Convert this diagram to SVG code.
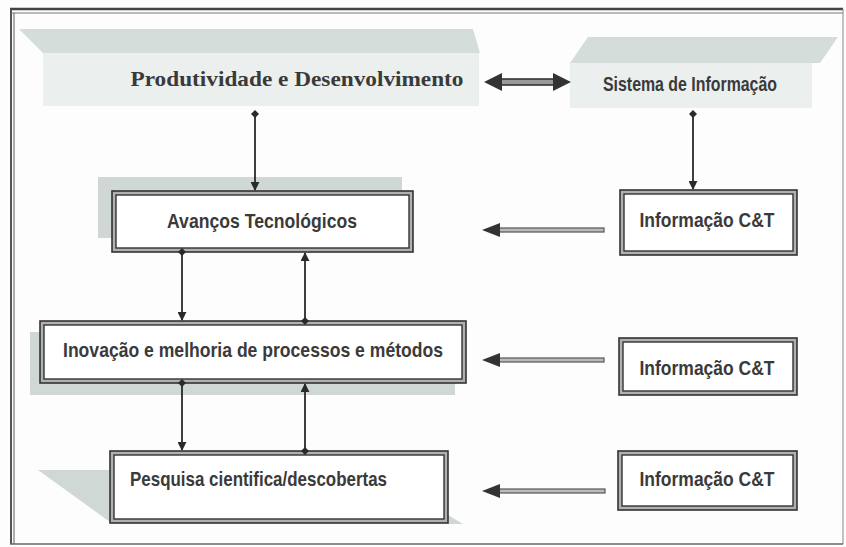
<svg xmlns="http://www.w3.org/2000/svg" width="846" height="547" viewBox="0 0 846 547">
<defs>
<style>
.lbl{font-family:"Liberation Sans Narrow","Liberation Sans",Arial,sans-serif;font-weight:bold;fill:#3a3a3a;font-size:21px}
.ser{font-family:"Liberation Serif","Times New Roman",serif;font-weight:bold;fill:#3a3a3a;font-size:22px}
.top{fill:#d4ddda}
.front{fill:#ebf0ee}
.shadow{fill:#d0d8d5}
.bout{fill:#b0b0b0;stroke:#333;stroke-width:1.6}
.bin{fill:#fff;stroke:#333;stroke-width:1.4}
.vline{stroke:#2a2a2a;stroke-width:1.8;fill:none}
.dl{stroke:#555;stroke-width:1.5;fill:none}
.head{fill:#333}
</style>
<marker id="arr" viewBox="0 0 10 10" refX="9" refY="5" markerWidth="9" markerHeight="9" orient="auto-start-reverse" markerUnits="userSpaceOnUse">
<path d="M0,0 L10,5 L0,10 z" fill="#2a2a2a"/>
</marker>
<marker id="dia" viewBox="0 0 10 10" refX="5" refY="5" markerWidth="8" markerHeight="8" orient="auto" markerUnits="userSpaceOnUse">
<path d="M5,0 L10,5 L5,10 L0,5 z" fill="#2a2a2a"/>
</marker>
</defs>
<rect x="0" y="0" width="846" height="547" fill="#fdfdfd"/>
<g id="frame">
<line x1="10" y1="9" x2="843" y2="9" stroke="#444" stroke-width="2.5"/>
<line x1="10" y1="13" x2="843" y2="13" stroke="#777" stroke-width="1.2"/>
<line x1="11" y1="9" x2="11" y2="544" stroke="#555" stroke-width="2"/>
<line x1="14" y1="13" x2="14" y2="544" stroke="#777" stroke-width="1.2"/>
<line x1="843" y1="9" x2="843" y2="544" stroke="#999" stroke-width="1.2"/>
<line x1="10" y1="544" x2="843" y2="544" stroke="#666" stroke-width="1.5"/>
</g>
<g id="produtividade">
<polygon class="top" points="19,29 473,29 480,53 43,53"/>
<rect class="front" x="43" y="53" width="436" height="53"/>
<text class="ser" x="297" y="86" text-anchor="middle" textLength="333" lengthAdjust="spacingAndGlyphs">Produtividade e Desenvolvimento</text>
</g>
<g id="sistema">
<polygon class="top" points="588,37 838,37 820,63 570,63"/>
<rect class="front" x="570" y="63" width="242" height="45"/>
<text class="lbl" x="690" y="91" text-anchor="middle" font-size="17" textLength="174" lengthAdjust="spacingAndGlyphs">Sistema de Informação</text>
</g>
<g id="avancos">
<rect class="shadow" x="98" y="177" width="304" height="61"/>
<rect class="bout" x="112" y="191" width="301" height="61"/>
<rect class="bin" x="116" y="195" width="293" height="53"/>
<text class="lbl" x="262" y="228" text-anchor="middle" textLength="190" lengthAdjust="spacingAndGlyphs">Avanços Tecnológicos</text>
</g>
<g id="inovacao">
<rect class="shadow" x="30" y="332" width="425" height="63"/>
<rect class="bout" x="40" y="321" width="426" height="62"/>
<rect class="bin" x="44" y="325" width="418" height="54"/>
<text class="lbl" x="253" y="357" text-anchor="middle" textLength="380" lengthAdjust="spacingAndGlyphs">Inovação e melhoria de processos e métodos</text>
</g>
<g id="pesquisa">
<polygon class="shadow" points="38,470 110,470 110,522"/>
<polygon class="shadow" points="448,515 463,524 448,524"/>
<rect class="bout" x="110" y="451" width="338" height="72"/>
<rect class="bin" x="114" y="455" width="330" height="64"/>
<text class="lbl" x="130" y="486" textLength="257" lengthAdjust="spacingAndGlyphs">Pesquisa cientifica/descobertas</text>
</g>
<g id="info1">
<rect class="bout" x="620" y="190" width="177" height="65"/>
<rect class="bin" x="624" y="194" width="169" height="57"/>
<text class="lbl" x="707" y="227" text-anchor="middle" textLength="135" lengthAdjust="spacingAndGlyphs">Informação C&amp;T</text>
</g>
<g id="info2">
<rect class="bout" x="619" y="338" width="178" height="57"/>
<rect class="bin" x="623" y="342" width="170" height="49"/>
<text class="lbl" x="707" y="375" text-anchor="middle" textLength="135" lengthAdjust="spacingAndGlyphs">Informação C&amp;T</text>
</g>
<g id="info3">
<rect class="bout" x="618" y="451" width="179" height="59"/>
<rect class="bin" x="622" y="455" width="171" height="51"/>
<text class="lbl" x="707" y="486" text-anchor="middle" textLength="135" lengthAdjust="spacingAndGlyphs">Informação C&amp;T</text>
</g>
<g id="connectors">
<rect x="496" y="79" width="62" height="6" fill="#999" stroke="#333" stroke-width="1.6"/>
<polygon class="head" points="484,82 502,73 502,91"/>
<polygon class="head" points="571,82 553,73 553,91"/>
<line class="vline" x1="255" y1="114" x2="255" y2="190" marker-start="url(#dia)" marker-end="url(#arr)"/>
<line class="vline" x1="693" y1="114" x2="693" y2="189" marker-start="url(#dia)" marker-end="url(#arr)"/>
<line class="vline" x1="182" y1="252" x2="182" y2="320" marker-start="url(#dia)" marker-end="url(#arr)"/>
<line class="vline" x1="305" y1="321" x2="305" y2="253" marker-start="url(#dia)" marker-end="url(#arr)"/>
<line class="vline" x1="182" y1="383" x2="182" y2="450" marker-start="url(#dia)" marker-end="url(#arr)"/>
<line class="vline" x1="305" y1="451" x2="305" y2="384" marker-start="url(#dia)" marker-end="url(#arr)"/>
<rect x="494" y="228" width="110" height="4" fill="#bbb" stroke="#555" stroke-width="1.2"/>
<polygon class="head" points="482,230 500,223 500,237"/>
<rect x="494" y="358" width="110" height="4" fill="#bbb" stroke="#555" stroke-width="1.2"/>
<polygon class="head" points="482,360 500,353 500,367"/>
<rect x="494" y="489" width="111" height="4" fill="#bbb" stroke="#555" stroke-width="1.2"/>
<polygon class="head" points="482,491 500,484 500,498"/>
</g>
</svg>
